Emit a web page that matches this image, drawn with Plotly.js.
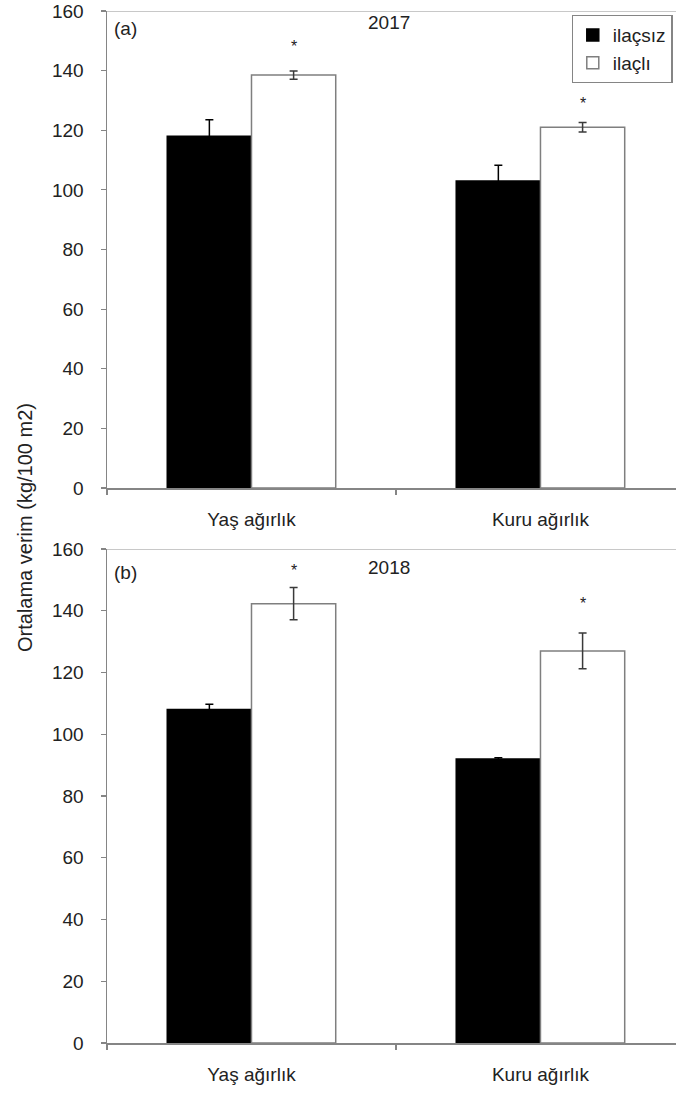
<!DOCTYPE html>
<html>
<head>
<meta charset="utf-8">
<script src="https://cdn.plot.ly/plotly-3.0.1.min.js"></script>
<style>html,body{margin:0;padding:0;background:#fff;}#chart{width:676px;height:1095px;}</style>
</head>
<body>
<div id="chart"></div>
<script>
// ---- data ----
const categories = ["Yaş ağırlık", "Kuru ağırlık"];
const seriesNames = ["ilaçsız", "ilaçlı"];
// 2017
const untreated2017 = [118, 103];
const untreated2017Err = [5.5, 5.3];
const treated2017 = [138.5, 121];
const treated2017Err = [1.4, 1.6];
const star2017Y = [148, 129];
// 2018
const untreated2018 = [108, 92];
const untreated2018Err = [1.7, 0.4];
const treated2018 = [142.3, 127];
const treated2018Err = [5.2, 5.8];
const star2018Y = [153, 142.5];
const panelLabels = ["(a)", "(b)"];
const yearLabels = ["2017", "2018"];
const yTickVals = [0, 20, 40, 60, 80, 100, 120, 140, 160];
const yAxisTitle = "Ortalama verim (kg/100 m2)";

const FONT = "Liberation Sans, Arial, sans-serif";
const FS = 19;
const txt = "#222";
const axisGray = "#858585";

function barTrace(name, y, err, fill, line, errColor, xa, ya, showlegend) {
  return {
    type: "bar", name: name, x: categories, y: y,
    xaxis: xa, yaxis: ya, showlegend: showlegend, legendgroup: name,
    marker: {color: fill, line: {color: line, width: 1.5}},
    error_y: {type: "data", array: err, visible: true, color: errColor, thickness: 1.5, width: 4}
  };
}

const data = [
  barTrace(seriesNames[0], untreated2017, untreated2017Err, "#000000", "#000000", "#000000", "x", "y", true),
  barTrace(seriesNames[1], treated2017, treated2017Err, "#ffffff", "#7f7f7f", "#3a3a3a", "x", "y", true),
  barTrace(seriesNames[0], untreated2018, untreated2018Err, "#000000", "#000000", "#000000", "x2", "y2", false),
  barTrace(seriesNames[1], treated2018, treated2018Err, "#ffffff", "#7f7f7f", "#3a3a3a", "x2", "y2", false)
];

const H = 1095;
function xAxis(anchor) {
  return {
    type: "category", anchor: anchor, range: [-0.5, 1.469], fixedrange: true,
    showline: true, linecolor: axisGray, linewidth: 1.5,
    ticks: "outside", tickson: "boundaries", ticklen: 5, tickcolor: axisGray, tickwidth: 1.2,
    tickfont: {family: FONT, size: FS, color: txt}, ticklabelstandoff: 14,
    showgrid: false, zeroline: false
  };
}
function yAxis(anchor, dom) {
  return {
    anchor: anchor, domain: dom, range: [0, 160], tickvals: yTickVals,
    showline: true, linecolor: axisGray, linewidth: 1.5,
    ticks: "outside", ticklen: 5, tickcolor: axisGray, tickwidth: 1.2,
    tickfont: {family: FONT, size: FS, color: txt}, ticklabelstandoff: 13,
    ticklabeloverflow: "allow",
    showgrid: false, zeroline: false
  };
}

const starOffset = 0.146;
const annotations = [];
[star2017Y, star2018Y].forEach((arr, p) => {
  arr.forEach((v, i) => {
    annotations.push({xref: p ? "x2" : "x", yref: p ? "y2" : "y", x: i + starOffset, y: v,
      text: "*", showarrow: false, font: {family: FONT, size: 16, color: "#222"}});
  });
});
panelLabels.forEach((t, p) => {
  annotations.push({xref: "paper", yref: "paper", x: (112 - 107) / 569, y: p ? 1 - 572 / H : 1 - 28 / H,
    text: t, showarrow: false, xanchor: "left", yanchor: "middle",
    font: {family: FONT, size: FS, color: txt}});
});
yearLabels.forEach((t, p) => {
  annotations.push({xref: "paper", yref: "paper", x: (389 - 107) / 569, y: p ? 1 - 567 / H : 1 - 23 / H,
    text: t, showarrow: false, xanchor: "center", yanchor: "middle",
    font: {family: FONT, size: FS, color: txt}});
});
annotations.push({xref: "paper", yref: "paper", x: (25 - 107) / 569, y: 1 - 528 / H, xanchor: "center", yanchor: "middle",
  text: yAxisTitle, textangle: -90, showarrow: false, font: {family: FONT, size: 20, color: txt}});

const layout = {
  width: 676, height: 1095,
  margin: {l: 107, r: 0, t: 0, b: 0},
  paper_bgcolor: "#fff", plot_bgcolor: "#fff",
  barmode: "group", bargap: 0.417, bargroupgap: 0,
  xaxis: xAxis("y"),
  yaxis: yAxis("x", [1 - 488 / H, 1 - 11 / H]),
  xaxis2: xAxis("y2"),
  yaxis2: yAxis("x2", [1 - 1043 / H, 1 - 549 / H]),
  shapes: [
    {type: "line", xref: "paper", yref: "y", x0: 0, x1: 1, y0: 160, y1: 160, line: {color: "#c8c8c8", width: 2}},
    {type: "line", xref: "paper", yref: "y2", x0: 0, x1: 1, y0: 160, y1: 160, line: {color: "#c8c8c8", width: 2}}
  ],
  annotations: annotations,
  legend: {
    x: 0.994, xanchor: "right", y: 1 - 15 / H, yanchor: "top",
    bgcolor: "#fff", bordercolor: axisGray, borderwidth: 1.2,
    font: {family: FONT, size: FS, color: txt},
    itemwidth: 30, tracegroupgap: 0
  },
  showlegend: true
};

Plotly.newPlot("chart", data, layout, {displayModeBar: false, staticPlot: true});
</script>
</body>
</html>
